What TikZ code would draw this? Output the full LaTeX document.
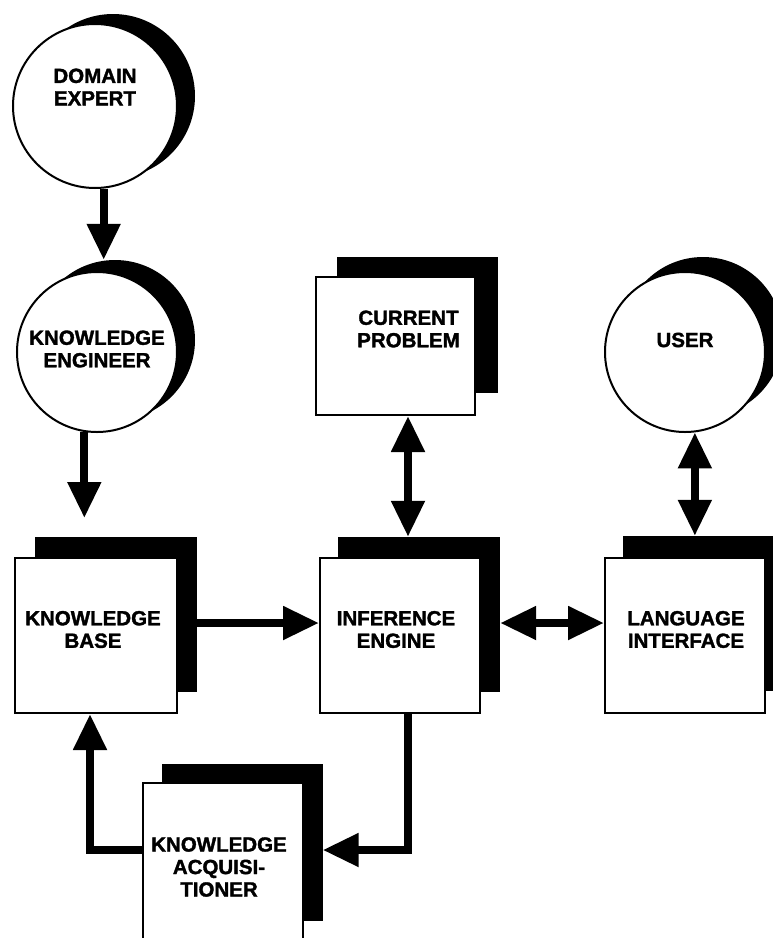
\documentclass[tikz,border=0pt]{standalone}
\usepackage{fontspec}
\usetikzlibrary{arrows.meta,calc}
\newfontfamily\lblfont{Liberation Sans}[FakeBold=1.6]

\tikzset{
  card/.style={rectangle, draw=black, line width=2pt, fill=white, inner sep=0pt,
               minimum width=160pt, minimum height=155pt},
  cardshadow/.style={rectangle, fill=black, inner sep=0pt,
               minimum width=160pt, minimum height=155pt},
  disc/.style={circle, draw=black, line width=2pt, fill=white, inner sep=0pt,
               minimum size=160pt},
  discshadow/.style={circle, fill=black, inner sep=0pt, minimum size=160pt},
  caption/.style={font=\lblfont\bfseries\fontsize{20.5}{22.5}\selectfont,
               align=center, text=black, inner sep=0pt},
  bigtip/.tip={Triangle[width=32pt,length=36pt]},
  flow/.style={line width=8pt, -bigtip},
  flowboth/.style={line width=8pt, bigtip-bigtip},
}

\begin{document}
\begin{tikzpicture}[x=1pt,y=-1pt]
  \useasboundingbox (0,0) rectangle (773,938);
  \clip (0,0) rectangle (773,938);

  % shadows behind the people and the modules
  \node[discshadow, minimum size=164pt] (deS) at (113,96) {};
  \node[discshadow] (keS) at (115,340) {};
  \node[discshadow] (userS) at (703,337) {};
  \node[cardshadow, minimum width=162pt] (kbS) at (116,614.5) {};
  \node[cardshadow, minimum width=162pt] (ieS) at (419,614.5) {};
  \node[cardshadow] (liS) at (703,613.5) {};
  \node[cardshadow, minimum width=161pt, minimum height=136pt] (cpS) at (417.5,325) {};
  \node[cardshadow, minimum width=161pt, minimum height=157pt] (kaS) at (242,842.5) {};

  % people
  \node[disc, minimum size=164pt,
        label={[caption, yshift=19pt]center:DOMAIN\\EXPERT}] (de) at (95,106) {};
  \node[disc, label={[caption, yshift=3pt]center:KNOWLEDGE\\ENGINEER}] (ke) at (97,352) {};
  \node[disc, label={[caption, yshift=12pt]center:USER}] (user) at (685,352) {};

  % modules
  \node[card, minimum width=162pt,
        label={[caption, xshift=-3pt, yshift=6pt]center:KNOWLEDGE\\BASE}] (kb) at (96,635.5) {};
  \node[card, label={[caption, xshift=-4pt, yshift=6pt]center:INFERENCE\\ENGINE}] (ie) at (400,635.5) {};
  \node[card, label={[caption, xshift=1pt, yshift=6pt]center:LANGUAGE\\INTERFACE}] (li) at (685,635.5) {};
  \node[card, minimum width=159pt, minimum height=138pt,
        label={[caption, xshift=13pt, yshift=17pt]center:CURRENT\\PROBLEM}] (cp) at (395.5,346) {};
  \node[card, minimum height=160pt,
        label={[caption, xshift=-4pt, yshift=-4pt]center:KNOWLEDGE\\ACQUISI-\\TIONER}] (ka) at (223,863) {};

  % routing lines for the connectors
  \coordinate (keIn) at (85,518);
  \coordinate (rowA) at (0,623);
  \coordinate (rowK) at (0,850);
  \coordinate (colA) at (90,0);
  \coordinate (colB) at (408,0);

  % connectors
  \draw[flow] (de.-84) -- (de.-84 |- keS.north);
  \draw[flow] (ke.-99) -- (ke.-99 |- keIn);
  \draw[flow] (kbS.east |- rowA) -- (ie.west |- rowA);
  \draw[flowboth] (ieS.east |- rowA) -- (li.west |- rowA);
  \draw[flowboth] (cp.south -| colB) -- (ieS.north -| colB);
  \draw[flowboth] (user.-83) -- (user.-83 |- liS.north);
  \draw[flow] (ie.south -| colB) |- (kaS.east |- rowK);
  \draw[flow] (ka.west |- rowK) -| (kb.south -| colA);
\end{tikzpicture}
\end{document}
